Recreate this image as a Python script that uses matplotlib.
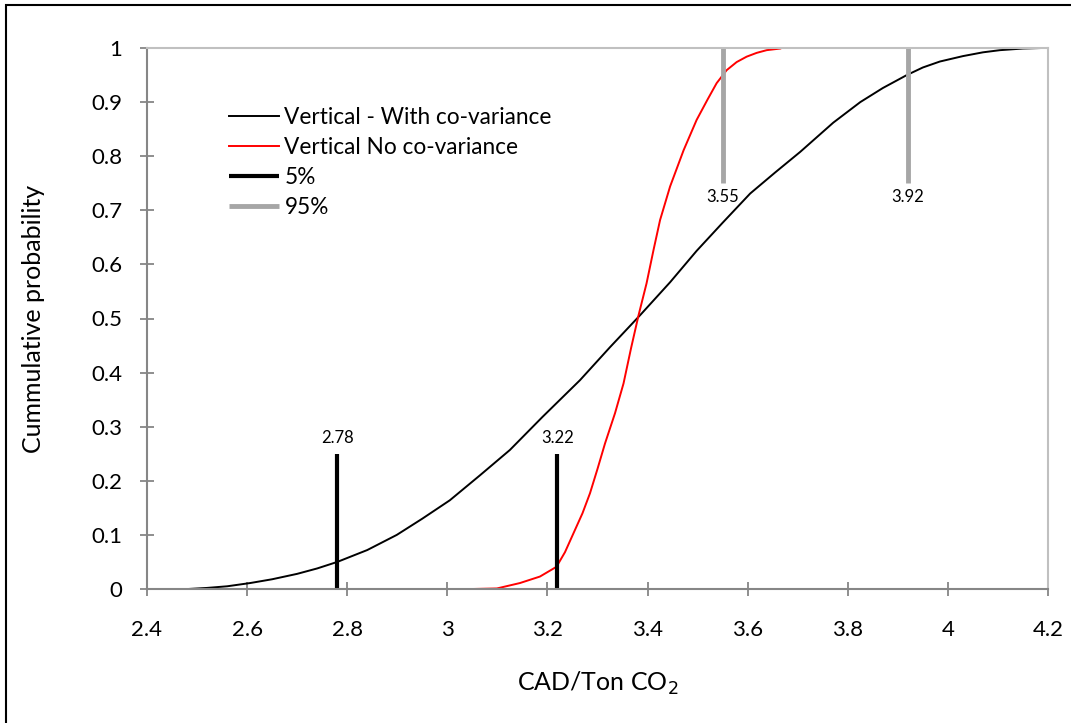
import matplotlib
matplotlib.use("Agg")
import matplotlib.pyplot as plt
from matplotlib.patches import Rectangle

# Data
with_cov_x = [2.482, 2.52, 2.56, 2.606, 2.65, 2.70, 2.74, 2.78, 2.84, 2.899, 2.95, 3.005, 3.065,
              3.125, 3.19, 3.265, 3.325, 3.385, 3.445, 3.498, 3.550, 3.605, 3.655, 3.705,
              3.771, 3.825, 3.87, 3.918, 3.95, 3.984, 4.03, 4.07, 4.104, 4.15, 4.188]
with_cov_y = [0.0, 0.002, 0.005, 0.011, 0.018, 0.028, 0.038, 0.050, 0.072, 0.100, 0.130, 0.164, 0.210,
              0.257, 0.318, 0.386, 0.447, 0.506, 0.567, 0.625, 0.677, 0.731, 0.770, 0.808,
              0.862, 0.900, 0.926, 0.950, 0.964, 0.975, 0.985, 0.992, 0.996, 0.999, 1.0]

no_cov_x = [3.05, 3.099, 3.145, 3.185, 3.218, 3.235, 3.252, 3.27, 3.285, 3.30, 3.315, 3.335, 3.352,
            3.367, 3.382, 3.398, 3.412, 3.425, 3.445, 3.472, 3.498, 3.52, 3.538, 3.558, 3.578,
            3.598, 3.618, 3.638, 3.665]
no_cov_y = [0.0, 0.001, 0.011, 0.023, 0.041, 0.068, 0.103, 0.140, 0.177, 0.222, 0.269, 0.325, 0.380,
            0.445, 0.506, 0.565, 0.627, 0.682, 0.744, 0.811, 0.867, 0.905, 0.935, 0.959, 0.974,
            0.984, 0.991, 0.996, 0.999]

p5_values = [2.78, 3.22]
p95_values = [3.55, 3.92]
p5_labels = ["2.78", "3.22"]
p95_labels = ["3.55", "3.92"]

series_labels = ["Vertical - With co-variance", "Vertical No co-variance", "5%", "95%"]
x_ticks = [2.4, 2.6, 2.8, 3.0, 3.2, 3.4, 3.6, 3.8, 4.0, 4.2]
x_tick_labels = ["2.4", "2.6", "2.8", "3", "3.2", "3.4", "3.6", "3.8", "4", "4.2"]
y_ticks = [0, 0.1, 0.2, 0.3, 0.4, 0.5, 0.6, 0.7, 0.8, 0.9, 1.0]
y_tick_labels = ["0", "0.1", "0.2", "0.3", "0.4", "0.5", "0.6", "0.7", "0.8", "0.9", "1"]

plt.rcParams['font.family'] = ['Lato', 'DejaVu Sans']

fig = plt.figure(figsize=(10.71, 7.23), dpi=100)
W, H = 1071, 723
ax = fig.add_axes([147 / W, 1 - 589 / H, (1048 - 147) / W, (589 - 48) / H])

GRAY95 = '#A6A6A6'
AXIS = '#868686'

h1, = ax.plot(with_cov_x, with_cov_y, color='black', lw=1.4)
h2, = ax.plot(no_cov_x, no_cov_y, color='#FF0000', lw=1.4)
h3 = None
for v, t in zip(p5_values, p5_labels):
    ln, = ax.plot([v, v], [0, 0.25], color='black', lw=3, solid_capstyle='butt')
    h3 = h3 or ln
    ax.text(v, 0.265, t, ha='center', va='bottom', fontsize=12)
h4 = None
for v, t in zip(p95_values, p95_labels):
    ln, = ax.plot([v, v], [0.75, 1.0], color=GRAY95, lw=3.5, solid_capstyle='butt')
    h4 = h4 or ln
    ax.text(v, 0.74, t, ha='center', va='top', fontsize=12)

ax.set_xlim(2.4, 4.2)
ax.set_ylim(0, 1)
ax.set_xticks(x_ticks)
ax.set_xticklabels(x_tick_labels)
ax.set_yticks(y_ticks)
ax.set_yticklabels(y_tick_labels)
ax.tick_params(axis='both', direction='inout', length=10, width=1.3, color=AXIS,
               labelsize=16)
ax.tick_params(axis='x', pad=17)
ax.tick_params(axis='y', pad=13)

for s in ['left', 'bottom']:
    ax.spines[s].set_color(AXIS)
    ax.spines[s].set_linewidth(1.5)
for s in ['top', 'right']:
    ax.spines[s].set_color('#C0C0C0')
    ax.spines[s].set_linewidth(1.5)

ax.set_xlabel("CAD/Ton CO$_2$", fontsize=18)
ax.xaxis.set_label_coords(0.5, -(683 - 589) / 541)
ax.xaxis.label.set_va('center')
ax.set_ylabel("Cummulative probability", fontsize=18)
ax.yaxis.set_label_coords(-(147 - 33) / 901, 0.5)
ax.yaxis.label.set_va('center')

leg = ax.legend(handles=[h1, h2, h3, h4], labels=series_labels, loc='upper left',
                bbox_to_anchor=((229 - 147) / 901, (589 - 107) / 541),
                frameon=False, fontsize=16.3, handlelength=2.2, handletextpad=0.25,
                labelspacing=0.4, borderpad=0, borderaxespad=0)

fig.patches.append(Rectangle((6 / W, -0.05), 1.2, 1 - 5 / H + 0.05, transform=fig.transFigure,
                             fill=False, edgecolor='black', lw=1.5))

fig.savefig("out.png", dpi=100)
